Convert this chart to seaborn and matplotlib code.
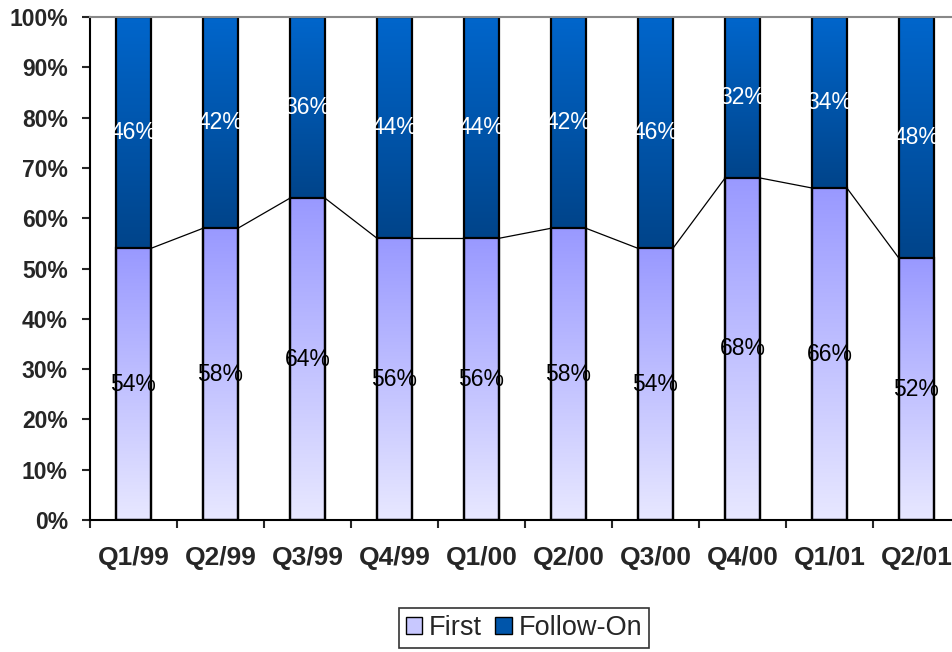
import numpy as np
import matplotlib
matplotlib.use("Agg")
import matplotlib.pyplot as plt
from matplotlib.colors import LinearSegmentedColormap
from matplotlib.patches import Patch
import seaborn as sns

quarters = ["Q1/99", "Q2/99", "Q3/99", "Q4/99", "Q1/00",
            "Q2/00", "Q3/00", "Q4/00", "Q1/01", "Q2/01"]
first = [54, 58, 64, 56, 56, 58, 54, 68, 66, 52]
follow_on = [46, 42, 36, 44, 44, 42, 46, 32, 34, 48]
yticks = [0, 10, 20, 30, 40, 50, 60, 70, 80, 90, 100]

sns.set_style("white")
plt.rcParams["font.family"] = ["Liberation Sans", "DejaVu Sans"]

first_cmap = LinearSegmentedColormap.from_list("first", ["#E8E8FF", "#9999FF"])
follow_cmap = LinearSegmentedColormap.from_list("follow", ["#00448A", "#0066CC"])

fig = plt.figure(figsize=(9.53, 6.52), dpi=100)
ax = fig.add_axes([90 / 953, 1 - 520 / 652, 870 / 953, 503 / 652])

totals = [a + b for a, b in zip(first, follow_on)]
sns.barplot(x=quarters, y=totals, color="#0055AA", width=0.4, ax=ax,
            edgecolor="black", linewidth=1.6)
sns.barplot(x=quarters, y=first, color="#B0B0FF", width=0.4, ax=ax,
            edgecolor="black", linewidth=1.6)

# vertical gradients, clipped to each bar
grad = np.linspace(0, 1, 256).reshape(-1, 1)
tot_bars = ax.containers[0]
first_bars = ax.containers[1]
for pt, pf, f, t in zip(tot_bars, first_bars, first, totals):
    x0, w = pf.get_x(), pf.get_width()
    im = ax.imshow(grad, cmap=follow_cmap, origin="lower", aspect="auto",
                   extent=[x0, x0 + w, f, t], zorder=1)
    im.set_clip_path(pt)
    im = ax.imshow(grad, cmap=first_cmap, origin="lower", aspect="auto",
                   extent=[x0, x0 + w, 0, f], zorder=1)
    im.set_clip_path(pf)
    for p in (pt, pf):
        p.set_facecolor("none")
        p.set_zorder(2)

# series lines between the tops of the First bars
for i in range(len(first) - 1):
    a, b = first_bars[i], first_bars[i + 1]
    ax.plot([a.get_x() + a.get_width(), b.get_x()], [first[i], first[i + 1]],
            color="black", lw=0.9, zorder=3)

for p, f, o in zip(first_bars, first, follow_on):
    cx = p.get_x() + p.get_width() / 2
    ax.text(cx, f / 2, f"{f}%", ha="center", va="center", fontsize=16.5,
            color="black", zorder=4)
    ax.text(cx, f + o / 2, f"{o}%", ha="center", va="center", fontsize=16.5,
            color="white", zorder=4)

n = len(quarters)
ax.set_xlim(-0.5, n - 0.5)
ax.set_ylim(0, 100)
ax.set_yticks(yticks)
ax.set_yticklabels([f"{v}%" for v in yticks], fontsize=16.5, fontweight="bold")
ax.set_xticks(range(n))
ax.set_xticklabels(quarters, fontsize=19, fontweight="bold")
ax.set_xticks(np.arange(-0.5, n, 1.0), minor=True)
ax.tick_params(axis="x", which="major", length=0, pad=19)
ax.tick_params(axis="x", which="minor", length=6, width=1.5, direction="out",
               bottom=True)
ax.tick_params(axis="y", length=6, width=1.5, direction="out", left=True, pad=10)
ax.set_xlabel("")
ax.set_ylabel("")

for side in ("left", "bottom"):
    ax.spines[side].set_color("black")
    ax.spines[side].set_linewidth(1.5)
ax.spines["top"].set_color("#888888")
ax.spines["top"].set_linewidth(1.5)
ax.spines["right"].set_visible(False)

handles = [Patch(facecolor="#C8C8FF", edgecolor="black", label="First"),
           Patch(facecolor="#0055AA", edgecolor="black", label="Follow-On")]
leg = fig.legend(handles=handles, loc="center", bbox_to_anchor=(524 / 953, 1 - 628 / 652),
                 ncol=2, fontsize=19.5, frameon=True, fancybox=False,
                 handlelength=0.6, handleheight=0.6, handletextpad=0.25,
                 columnspacing=0.5, borderpad=0.25, borderaxespad=0)
leg.get_frame().set_edgecolor("black")
leg.get_frame().set_linewidth(1.2)

fig.savefig("out.png", dpi=100)
